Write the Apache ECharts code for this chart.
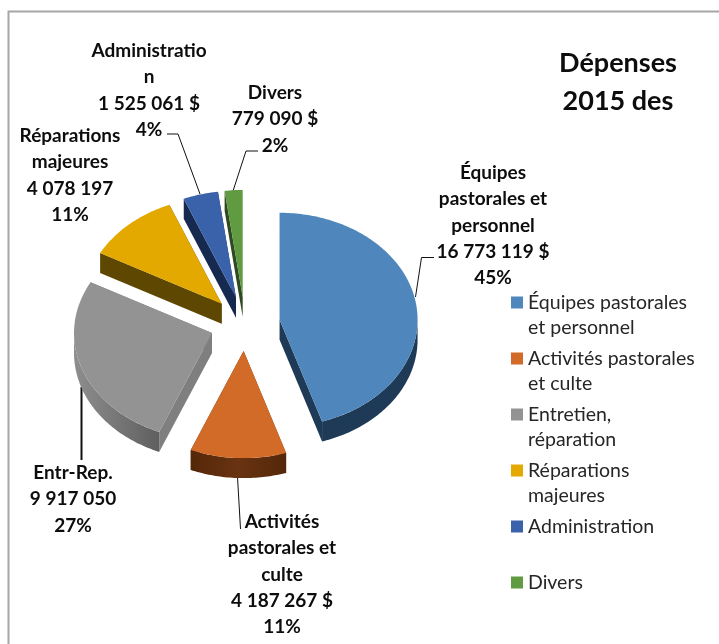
<!DOCTYPE html>
<html>
<head>
<meta charset="utf-8">
<style>
  html, body { margin: 0; padding: 0; background: #fff; }
  #chart { width: 719px; height: 644px; }
</style>
<script src="https://cdn.jsdelivr.net/npm/echarts@6/dist/echarts.min.js"></script>
</head>
<body>
<div id="chart"></div>
<script>
// data
const categories = ['Équipes pastorales et personnel', 'Activités pastorales et culte', 'Entretien, réparation', 'Réparations majeures', 'Administration', 'Divers'];
const values = [16773119, 4187267, 9917050, 4078197, 1525061, 779090];
const legendTexts = ['Équipes pastorales\net personnel', 'Activités pastorales\net culte', 'Entretien,\nréparation', 'Réparations\nmajeures', 'Administration\n ', 'Divers\n '];
const labelNames = ['Équipes\npastorales et\npersonnel', 'Activités\npastorales et\nculte', 'Entr-Rep.', 'Réparations\nmajeures', 'Administratio\nn', 'Divers'];
const labelValues = ['16 773 119 $', '4 187 267 $', '9 917 050', '4 078 197', '1 525 061 $', '779 090 $'];
const labelPercents = ['45%', '11%', '27%', '11%', '4%', '2%'];

// colours
const topColors = ['#4f87bd', '#d36b28', '#939393', '#e3a900', '#3a62aa', '#609a41'];
const wallColors = ['#1e3a56', '#5c2c0e', '#7f7f7f', '#5e4700', '#16294f', '#2f4a22'];
const rimStops = [
  [[0, '#1e3a56'], [1, '#1e3a56']],
  [[0, '#542709'], [0.5, '#693311'], [1, '#542709']],
  [[0, '#8e8e8e'], [0.6, '#727272'], [1, '#5f5f5f']],
  null, null, null
];

// pie geometry
const centerX = 245, centerY = 324, rx = 138, ry = 107, depth = 20, explode = 35;
const total = values.reduce((a, b) => a + b, 0);
const rad = d => d * Math.PI / 180;

function rimPoint(ox, oy, deg, dy) {
  return [ox + rx * Math.sin(rad(deg)), oy - ry * Math.cos(rad(deg)) + dy];
}

function arcPoints(ox, oy, from, to, dy) {
  const pts = [];
  const n = Math.max(2, Math.ceil(Math.abs(to - from)));
  for (let k = 0; k <= n; k++) pts.push(rimPoint(ox, oy, from + (to - from) * k / n, dy));
  return pts;
}

const makeRender = idx => (params, api) => {
  const start = values.slice(0, idx).reduce((a, b) => a + b, 0) / total * 360;
  const end = start + api.value(0) / total * 360;
  const mid = (start + end) / 2;
  const ox = centerX + explode * Math.sin(rad(mid));
  const oy = centerY - explode * (ry / rx) * Math.cos(rad(mid));
  const kids = [];
  const wall = deg => ({
    type: 'polygon',
    shape: { points: [[ox, oy], rimPoint(ox, oy, deg, 0), rimPoint(ox, oy, deg, depth), [ox, oy + depth]] },
    style: { fill: wallColors[idx] }
  });
  kids.push(wall(start), wall(end));
  // front part of the outer wall only
  const a = Math.max(start, 90), b = Math.min(end, 270);
  if (b > a) {
    const toRight = idx === 2;
    kids.push({
      type: 'polygon',
      shape: { points: arcPoints(ox, oy, a, b, 0).concat(arcPoints(ox, oy, b, a, depth)) },
      style: {
        fill: {
          type: 'linear', x: toRight ? 0 : 1, y: 0, x2: toRight ? 1 : 0, y2: 0,
          colorStops: rimStops[idx].map(s => ({ offset: s[0], color: s[1] }))
        }
      }
    });
  }
  kids.push({
    type: 'polygon',
    shape: { points: [[ox, oy]].concat(arcPoints(ox, oy, start, end, 0)) },
    style: { fill: topColors[idx] }
  });
  return { type: 'group', children: kids };
};

// data label layout: [center x, y of first line centre]
const labelSpots = [[493, 173], [282, 522], [73, 473], [70, 136], [149, 51], [275, 93]];
const leaderLines = [
  { w: 1, pts: [[415.5, 297], [421.5, 257.5], [434, 257.5]] },
  { w: 1, pts: [[237.5, 477], [240.5, 529]] },
  { w: 2, pts: [[81.5, 387], [81.5, 460]] },
  null,
  { w: 1, pts: [[167, 134], [178, 134], [200, 194]] },
  { w: 1, pts: [[258, 151], [246, 151], [233, 191]] }
];
const lineH = 26.2;

const graphics = [{
  type: 'polyline',
  shape: { points: [[8.5, 644], [8.5, 11.5], [719, 11.5]] },
  style: { stroke: '#a6a6a6', lineWidth: 2, fill: 'none' }
}];
categories.forEach((c, i) => {
  graphics.push({
    type: 'text',
    x: labelSpots[i][0],
    y: labelSpots[i][1] - lineH / 2,
    style: {
      text: labelNames[i] + '\n' + labelValues[i] + '\n' + labelPercents[i],
      font: 'bold 19px Lato',
      lineHeight: lineH,
      align: 'center',
      verticalAlign: 'top',
      fill: '#0d0d0d'
    }
  });
  if (leaderLines[i]) {
    graphics.push({
      type: 'polyline',
      shape: { points: leaderLines[i].pts },
      style: { stroke: '#111', lineWidth: leaderLines[i].w, fill: 'none' }
    });
  }
});

const chart = echarts.init(document.getElementById('chart'));
chart.setOption({
  animation: false,
  backgroundColor: '#fff',
  title: {
    text: 'Dépenses\n2015 des',
    left: 613,
    top: 39,
    textAlign: 'center',
    textStyle: { fontFamily: 'Lato', fontWeight: 'bold', fontSize: 27, lineHeight: 38, color: '#0d0d0d' }
  },
  legend: {
    orient: 'vertical',
    left: 511,
    top: 265,
    padding: 0,
    itemWidth: 12,
    itemHeight: 12,
    itemGap: -19,
    icon: 'rect',
    selectedMode: false,
    data: categories,
    // blank first line keeps the swatch level with the first text line
    formatter: name => ' \n' + legendTexts[categories.indexOf(name)],
    textStyle: { fontFamily: 'Lato', fontSize: 19.5, lineHeight: 25, color: '#262626' }
  },
  graphic: graphics,
  series: categories.map((name, i) => ({
    type: 'custom',
    name: name,
    coordinateSystem: 'none',
    silent: true,
    itemStyle: { color: topColors[i] },
    renderItem: makeRender(i),
    data: [values[i]]
  }))
});
</script>
</body>
</html>
